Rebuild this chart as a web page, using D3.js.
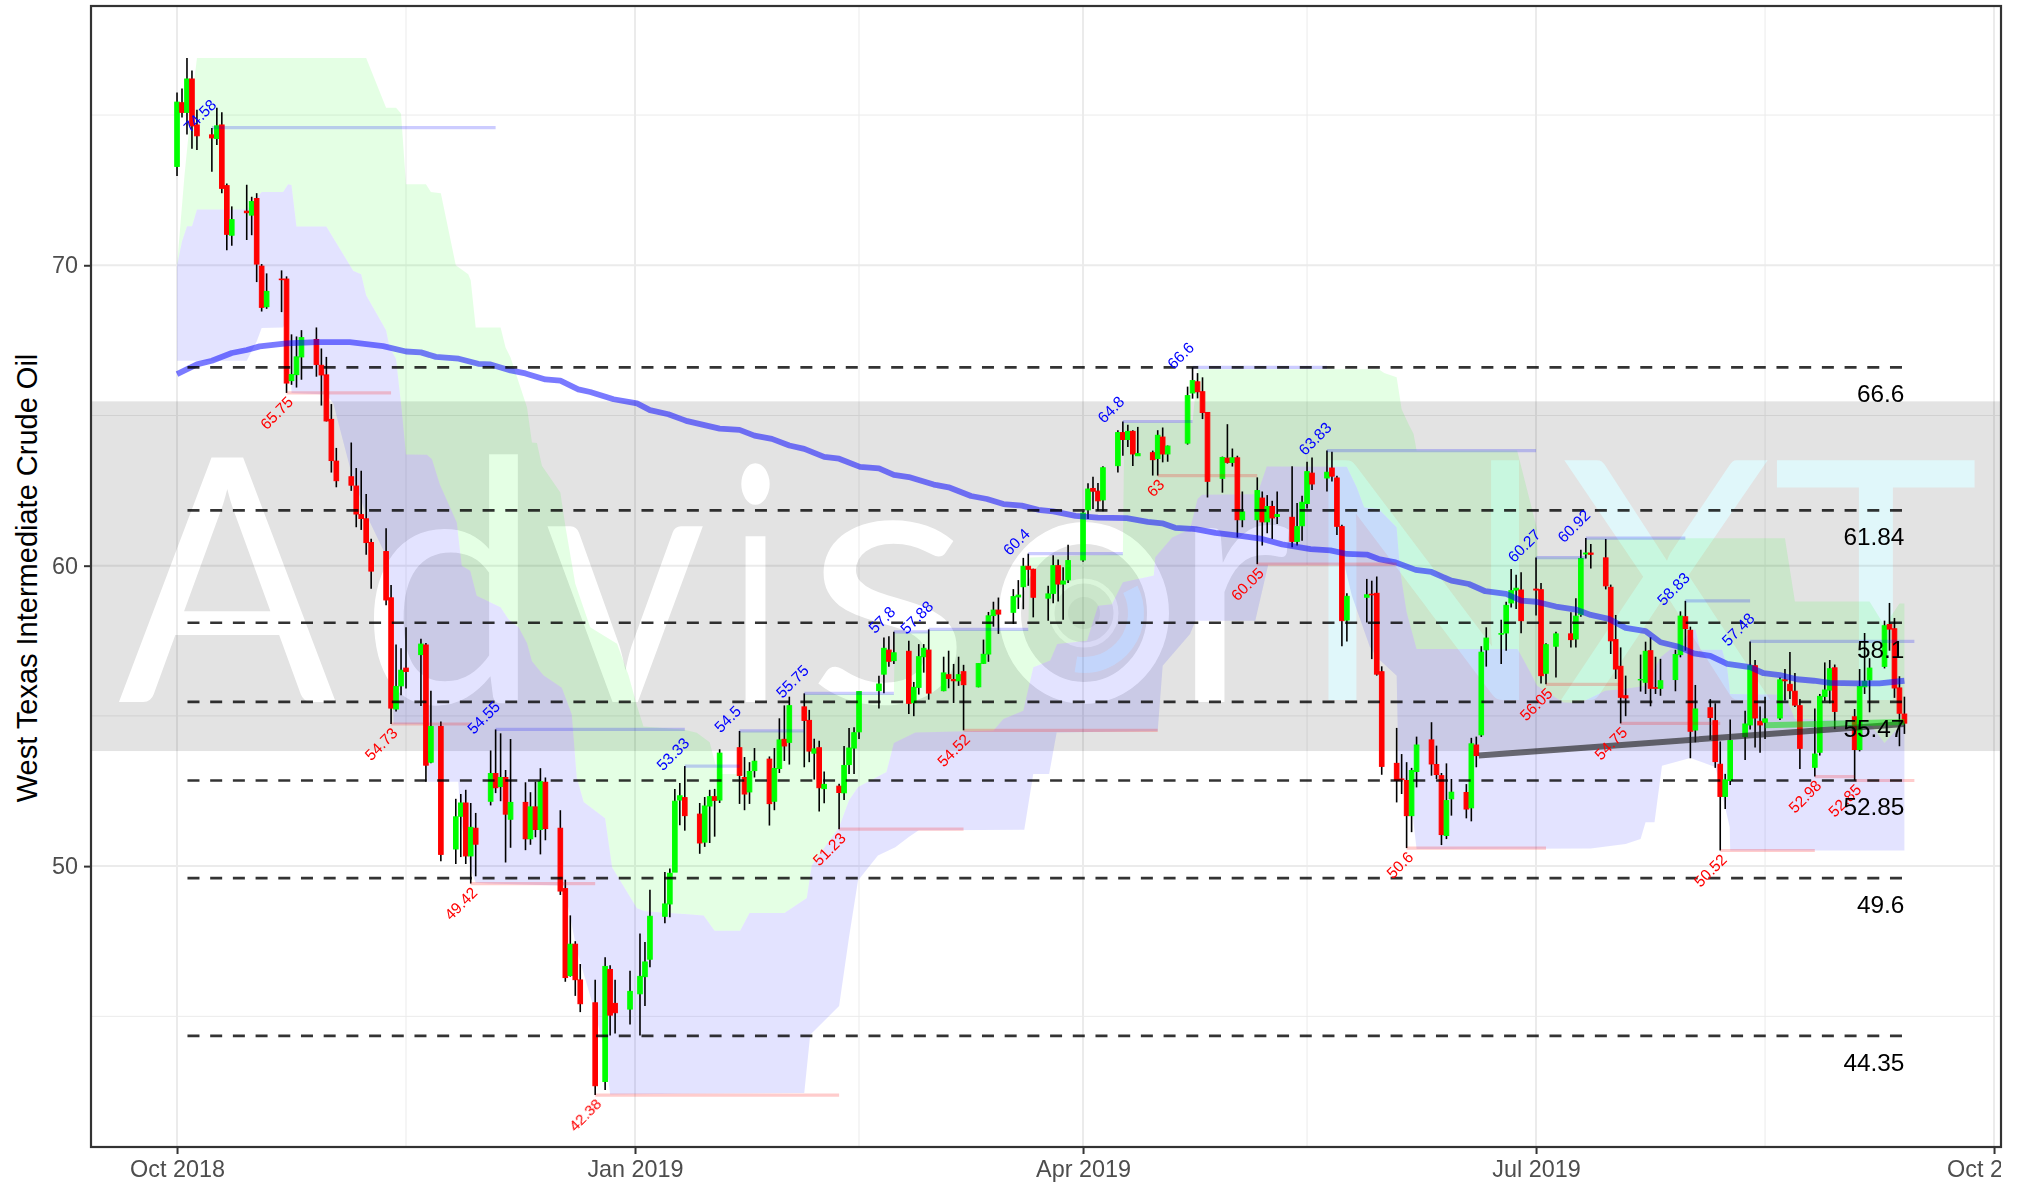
<!DOCTYPE html>
<html>
<head>
<meta charset="utf-8">
<script src="https://cdn.jsdelivr.net/npm/d3@7"></script>
<style>
  body { margin: 0; background: #fff; }
  svg { display: block; }
  text { font-family: "Liberation Sans", Arial, sans-serif; }
</style>
</head>
<body>
<div id="chart"></div>
<script>
// Candles: days are counted from 2018-10-01
const days = [0,1,2,3,4,7,8,9,10,11,
  14,15,16,17,18,21,22,23,24,25,
  28,29,30,31,32,35,36,37,38,39,
  42,43,44,45,46,49,50,51,53,56,
  57,58,59,60,63,64,65,66,67,70,
  71,72,73,74,77,78,79,80,81,84,
  86,87,88,91,93,94,95,98,99,100,
  101,102,105,106,107,108,109,113,114,115,
  116,119,120,121,122,123,126,127,128,129,
  130,133,134,135,136,137,141,142,143,144,
  147,148,149,150,151,154,155,156,157,158,
  161,162,163,164,165,168,169,170,171,172,
  175,176,177,178,179,182,183,184,185,186,
  189,190,191,192,193,196,197,198,199,203,
  204,205,206,207,210,211,212,213,214,217,
  218,219,220,221,224,225,226,227,228,231,
  232,233,234,235,239,240,241,242,245,246,
  247,248,249,252,253,254,255,256,259,260,
  261,262,263,266,267,268,269,270,273,274,
  275,277,280,281,282,283,284,287,288,289,
  290,291,294,295,296,297,298,301,302,303,
  304,305,308,309,310,311,312,315,316,317,
  318,319,322,323,324,325,326,329,330,331,
  332,333,337,338,339,340,343,344,345,346,
  347];

const opens = [73.29,75.41,75.09,76.2,74.67,74.34,74.22,74.67,72.65,71.0,
  71.8,71.67,72.22,69.97,68.62,69.54,69.54,66.16,66.36,66.95,
  67.53,66.67,66.35,64.87,63.48,62.96,62.65,61.7,61.56,60.77,
  60.47,58.93,55.23,56.0,56.59,57.04,57.36,53.46,54.65,50.57,
  51.66,52.1,50.34,51.26,52.16,53.08,52.65,52.95,51.56,52.12,
  50.91,51.97,51.22,52.79,51.26,49.25,46.36,47.4,46.21,45.45,
  42.83,46.56,45.43,45.24,45.75,46.32,46.9,48.33,48.74,49.8,
  52.2,52.28,51.73,50.8,52.0,52.31,52.2,53.94,52.95,52.47,
  53.18,53.56,52.16,53.25,54.22,54.12,55.3,54.85,53.76,53.94,
  52.58,52.66,52.44,53.38,53.93,54.47,55.84,56.39,57.19,56.84,
  57.15,55.44,55.95,56.97,57.19,55.84,56.37,56.21,56.17,56.47,
  55.97,56.75,57.06,58.34,58.52,58.45,58.96,59.3,59.98,59.88,
  58.92,59.08,60.0,59.39,59.53,60.19,61.86,62.57,62.48,62.19,
  63.33,64.43,64.2,64.47,63.66,63.76,63.57,64.28,63.72,64.08,
  65.75,66.12,65.79,65.1,62.91,63.58,63.44,63.59,61.53,61.53,
  62.25,61.46,61.97,61.64,61.61,60.81,61.33,62.07,63.08,62.92,
  63.25,62.92,61.3,58.19,58.95,59.05,59.08,56.47,53.42,52.9,
  52.85,51.68,53.15,54.2,53.38,53.01,51.02,52.24,52.45,51.94,
  54.03,54.37,57.2,57.72,57.76,58.76,59.19,59.19,59.22,59.2,
  56.42,57.32,57.73,57.56,58.37,60.39,60.42,60.26,59.28,57.54,
  56.65,55.67,56.2,56.12,57.17,55.94,55.92,56.21,57.04,58.3,
  57.85,54.53,55.27,54.84,53.39,52.32,52.85,54.31,54.7,56.67,
  54.82,54.79,54.93,56.2,56.05,55.82,55.34,53.29,53.79,55.65,
  55.86,56.6,54.97,53.88,55.97,56.2,56.65,58.04,57.9,55.93,
  55.06];

const highs = [75.75,75.88,76.9,76.48,75.18,74.57,75.24,75.09,72.72,71.96,
  72.68,72.28,72.4,70.04,69.73,69.83,69.63,67.7,67.63,67.84,
  67.93,67.23,66.95,65.38,63.92,64.1,63.25,63.16,62.39,60.9,
  61.25,59.36,57.38,57.25,57.95,57.57,57.43,55.84,54.81,52.24,
  52.4,52.54,52.1,51.77,53.85,54.55,54.42,53.2,54.23,52.79,
  52.46,52.81,53.26,52.95,51.86,49.55,48.36,47.5,46.74,46.22,
  46.97,46.7,46.22,46.52,47.76,47.47,49.21,49.8,49.92,52.57,
  52.77,53.33,52.1,52.3,52.54,52.57,53.89,54.5,53.63,53.46,
  53.93,53.65,53.93,54.92,55.35,55.64,55.75,55.2,54.24,54.17,
  53.15,52.74,54.0,54.6,54.62,55.83,56.34,57.61,57.65,57.8,
  57.5,56.13,57.39,57.39,57.88,56.97,57.17,56.73,56.97,56.7,
  56.75,57.54,58.46,58.8,58.94,59.22,59.52,60.26,60.4,59.9,
  59.33,60.35,60.21,59.95,60.7,61.81,62.74,62.96,62.75,63.31,
  64.51,64.8,64.69,64.51,64.62,63.83,64.51,64.6,64.0,65.96,
  66.6,66.41,66.27,65.1,63.63,64.71,63.9,63.66,62.47,62.94,
  62.47,62.35,62.16,62.47,63.31,62.09,62.33,63.46,63.6,63.83,
  63.79,62.99,61.36,59.08,59.56,59.5,59.64,56.65,54.6,53.73,
  53.46,53.27,54.31,54.79,54.01,53.1,53.42,52.9,52.73,54.27,
  54.31,57.32,57.95,58.2,58.8,59.89,59.7,59.78,60.27,59.42,
  57.42,57.8,58.45,58.92,60.53,60.92,60.72,60.89,59.37,58.36,
  57.28,56.34,57.04,57.47,57.62,56.97,56.9,57.2,58.48,58.83,
  57.97,56.03,55.56,55.42,54.15,53.07,54.88,55.17,57.48,56.86,
  55.31,55.64,56.28,56.56,57.13,56.43,55.56,55.25,55.73,56.78,
  56.86,56.71,55.23,56.56,57.76,56.92,58.17,58.76,58.26,56.32,
  55.64];

const lows = [72.97,74.92,74.35,73.88,73.84,73.11,74.0,72.4,70.5,70.65,
  70.84,71.0,69.44,68.46,68.55,68.44,65.75,66.02,65.93,66.19,
  66.29,65.33,64.8,63.1,62.61,62.49,61.28,61.19,60.36,59.23,
  58.68,54.73,55.15,55.69,55.91,55.33,52.81,53.42,50.16,50.07,
  50.3,50.07,49.42,49.66,52.02,52.43,52.16,50.12,50.61,50.53,
  50.71,50.96,50.39,50.86,49.04,46.15,46.32,45.68,45.14,42.38,
  42.55,44.36,44.43,44.73,44.36,45.34,46.63,48.1,48.3,49.8,
  51.36,51.18,50.41,50.64,50.77,50.98,52.1,52.07,51.86,52.07,
  52.95,51.35,51.86,53.1,53.5,53.38,53.29,53.46,52.88,51.82,
  52.09,51.23,52.2,53.07,53.07,54.23,55.25,55.75,56.64,56.73,
  55.06,54.99,55.71,56.44,55.54,55.82,55.92,55.43,56.0,54.52,
  55.95,56.73,56.8,57.97,57.73,58.06,58.56,58.55,59.33,58.28,
  58.17,58.75,58.81,58.2,59.42,60.13,61.55,61.89,61.83,61.81,
  63.1,63.66,63.95,63.32,63.7,63.0,63.0,63.44,63.46,64.03,
  65.56,65.57,64.88,62.27,62.43,63.4,63.3,60.94,61.28,60.05,
  60.67,61.08,60.89,61.39,60.61,60.67,60.83,61.9,62.52,62.47,
  62.8,61.02,57.32,57.48,58.11,56.89,56.34,53.04,52.12,52.4,
  50.6,51.13,52.62,53.01,52.9,50.7,50.9,51.68,51.59,51.49,
  53.29,54.3,56.64,56.73,57.17,58.61,58.56,57.75,58.34,56.08,
  56.05,56.28,57.28,57.28,58.3,60.24,59.91,59.21,57.06,56.23,
  54.75,54.99,55.81,55.73,55.32,55.73,55.67,55.82,56.95,57.17,
  53.59,54.12,54.2,53.27,50.52,51.9,52.7,53.53,54.55,53.95,
  53.77,54.23,54.86,55.51,55.56,55.3,53.23,52.98,53.68,55.5,
  55.42,54.56,52.85,53.82,55.73,55.12,56.58,57.17,55.6,53.99,
  54.4];

const closes = [75.43,75.09,76.2,74.64,74.31,74.24,74.64,72.56,71.03,71.52,
  71.75,72.12,70.04,68.6,69.13,69.52,66.08,66.36,66.95,67.59,
  66.7,66.35,64.82,63.5,62.83,62.68,61.72,61.57,60.77,59.82,
  58.86,55.26,55.98,56.52,56.48,57.39,53.36,54.65,50.39,51.64,
  52.1,50.34,51.29,50.73,53.08,52.61,52.95,51.73,52.12,50.91,
  51.97,51.22,52.81,51.25,49.17,46.29,47.4,46.22,45.42,42.69,
  46.66,45.04,45.12,45.83,46.33,46.81,48.33,48.74,49.76,52.16,
  52.34,51.68,50.77,52.0,52.31,52.19,53.76,53.02,52.4,53.15,
  53.49,52.08,53.25,54.2,54.0,55.34,54.85,53.83,53.9,52.61,
  52.72,52.45,53.35,53.93,54.44,55.81,56.06,57.25,56.82,57.1,
  55.42,55.95,56.97,57.25,55.76,56.43,56.25,56.17,56.37,56.04,
  56.74,57.05,58.33,58.52,58.39,58.97,59.02,59.98,59.88,58.95,
  59.06,60.0,59.39,59.49,60.17,61.75,62.55,62.48,62.16,63.26,
  64.43,64.2,64.47,63.72,63.73,63.53,64.34,63.72,63.98,65.66,
  66.16,65.79,65.1,62.81,63.6,63.44,63.59,61.53,61.79,62.5,
  61.46,61.97,61.59,61.7,60.81,61.3,62.11,63.13,62.72,63.11,
  62.98,61.31,58.17,58.98,59.03,59.03,56.39,53.32,52.85,52.88,
  51.68,53.18,54.03,53.4,53.05,51.05,52.18,52.46,51.9,54.07,
  53.68,57.12,57.59,57.74,58.68,59.17,59.25,58.17,59.19,56.34,
  57.37,57.73,57.54,58.32,60.24,60.42,60.38,59.33,57.5,56.56,
  55.62,55.6,56.21,57.15,55.92,55.92,56.17,57.04,58.32,57.91,
  54.49,55.23,54.95,53.48,52.32,52.87,54.18,54.73,56.67,54.93,
  54.7,54.9,56.2,56.17,55.84,55.36,53.92,53.73,55.65,55.86,
  56.57,55.15,53.88,55.98,56.15,56.59,58.0,57.89,55.93,55.09,
  54.76];

// Moving average
const maDays = [0,4,7,11,14,16.6,22,28,34.7,41.4,
  46,49,52,56.6,60.5,63,67,70,74,77,
  80.6,83,87.7,92.4,95,98.7,102.5,109,113,116,
  119.5,123,126,130,133,137.2,141,144,147,152,
  155,159.5,162.7,166,169.7,173,176,180.5,185,190.8,
  195,197.9,200.5,204.6,208.6,214,218,222,227.7,231.7,
  235,239,241.4,244.8,248.8,252,256,259.5,262.8,267,
  270,273,277,281,284,287.6,291,295,298,301.3,
  304.7,308,311.4,316,318.7,322,325.4,328.8,332,337.5,
  342,347];
const maValues = [66.38,66.7,66.82,67.08,67.18,67.3,67.4,67.44,67.44,67.31,
  67.13,67.1,66.95,66.89,66.72,66.7,66.5,66.4,66.2,66.16,
  65.87,65.78,65.54,65.4,65.18,65.04,64.81,64.56,64.52,64.33,
  64.22,64.0,63.89,63.62,63.56,63.29,63.24,63.02,62.95,62.7,
  62.61,62.32,62.22,62.05,62.0,61.86,61.81,61.66,61.6,61.58,
  61.46,61.41,61.26,61.22,61.09,60.98,60.89,60.71,60.55,60.51,
  60.39,60.37,60.22,60.11,59.86,59.79,59.5,59.39,59.15,59.06,
  58.84,58.8,58.64,58.54,58.36,58.23,57.93,57.82,57.45,57.32,
  57.08,57.0,56.73,56.62,56.42,56.36,56.22,56.17,56.1,56.08,
  56.08,56.17];

// Cloud edges as [day, price]: green sits between upper and middle, blue between middle and lower
const cloudUpper = [[0,70],[1.5,73],[3,75.5],[4,76.9],[38,76.9],[42,75.24],[44,75.24],[45,75.05],[46,72.7],[50,72.7],
  [51,72.44],[53,72.4],[56,70],[58.5,69.7],[59,69.5],[60,67.93],[65,67.93],[66,67.26],[67,66.93],[70.3,65.27],
  [71.3,64.1],[72.3,64.08],[73.3,63.33],[77,62.44],[78,61.33],[80,59.4],[83,57.95],[88.4,57.4],[90.7,56.35],[92.4,55.33],
  [93.7,54.65],[101.7,54.55],[104.4,54.44],[107,54.12],[108,53.49],[108.8,53.07],[112.4,53.07],[113,54.48],[126,54.5],[126.2,55.73],
  [144,55.73],[144.2,57.75],[151,57.8],[151.2,57.86],[171,57.86],[171.3,60.27],[190,60.39],[190.3,64.77],[204,64.77],[205,66.54],
  [241.4,66.54],[242.5,66.41],[245,66.27],[246,65.21],[247.4,64.71],[248.4,64.38],[249,63.83],[269.2,63.83],[273.2,61.22],[273.3,60.28],
  [282.6,60.27],[283,60.91],[323,60.91],[325,58.81],[340,58.81],[343,58.0],[346,58.74],[347,58.74]];

const cloudMiddle = [[0,70],[1,70.8],[2,71.3],[3,71.3],[4,71.86],[14,71.86],[17,72.44],[21.3,72.44],[22.3,72.7],[23,72.67],
  [24,71.29],[30,71.29],[35.4,69.82],[37,69.7],[38,69],[42,67.84],[42.7,67.27],[44,66.89],[45,65.4],[46,63.7],
  [50.2,63.69],[51.2,63.55],[52.8,62.7],[56.2,61.44],[57.2,60],[58.9,59.83],[60.2,59],[65,58.62],[66.6,58.22],[68.6,57.95],
  [70.3,57.43],[71.3,56.82],[73.6,56.35],[77.3,55.94],[79.3,55.05],[80.3,52.95],[81.7,52.13],[86,51.59],[87.4,49.96],[92.4,48.6],
  [94,48.5],[105.8,48.36],[108,47.85],[113.1,47.85],[115,48.44],[122,48.44],[126.5,48.94],[127.5,50.03],[133,51.3],[135,52.2],
  [136.8,52.63],[142.5,53.13],[144,54.1],[148.3,54.45],[164,54.51],[166,54.9],[170,55.17],[172,56.62],[175.4,56.84],[176.8,57.39],
  [182.8,57.5],[185,58.67],[187.8,58.72],[190,59.45],[196.2,59.67],[196.5,60.28],[199.9,60.94],[203.5,61.22],[205,62.22],[205.9,62.36],
  [217,62.38],[218.9,63.3],[235,63.29],[237,62.6],[238.5,61.94],[241.4,61.89],[245,61.28],[245.7,59.83],[247,58.45],[249,57.23],
  [269.3,57.23],[272,56.4],[273.2,56],[278.5,55.45],[281.8,55.43],[286.9,55.84],[291,55.9],[295,56],[298,56.95],[301,57.35],
  [305,57.9],[306,57.2],[310.4,57.2],[311.4,56.6],[312,55.73],[323,55.7],[325,54.9],[339.6,54.84],[343,54.1],[347,54.84]];

const cloudLower = [[0,66.82],[14,66.82],[16,67.46],[17,67.91],[21.3,67.93],[22.5,68.3],[23,65.75],[30,65.7],[31.4,65.4],[35,63.1],
  [38,61.7],[41.5,60.5],[43,58.5],[43.5,54.73],[50,54.73],[50.3,52.81],[56.5,52.81],[57,51.5],[59,49.9],[60,49.45],
  [62.5,49.42],[77.7,49.35],[79,48.3],[80.3,47.2],[83.6,45.34],[86,43.8],[87,42.4],[126,42.45],[127.2,44.39],[133,45.34],
  [135,47.64],[136.8,49.52],[140.8,50.35],[144.3,50.63],[147,50.97],[149,51.19],[170.2,51.21],[172,53.07],[175.2,53.07],[176.7,54.45],
  [197,54.5],[198,56.67],[203.5,57.73],[204.6,58.17],[216.6,58.17],[219.2,60.03],[234.5,60.03],[236,59],[239.6,57.3],[241,56.95],
  [245,56.34],[245.4,52.9],[247.4,52.85],[249,50.57],[284,50.59],[291,50.74],[294,50.9],[295,51.46],[296.8,51.46],[298.3,53.34],
  [304,53.6],[309,53.3],[310.5,52.3],[311.9,51.3],[312,50.52],[347,50.52]];

// Pivots: value, first day of the flat line, last day
const peakValues = [74.58,54.55,53.33,54.5,55.75,57.8,57.88,60.4,64.8,66.6,63.83,60.27,60.92,58.83,57.48];
const peakStarts = [7,64,102,113,126,144,151,171,190,204,231,273,283,303,316];
const peakEnds = [64,102,113,126,144,151,171,190,204,231,273,283,303,316,349];
const troughValues = [65.75,54.73,49.42,42.38,51.23,54.52,63,60.05,50.6,56.05,54.75,50.52,52.98,52.85];
const troughStarts = [22,43,59,84,133,158,197,217,247,275,290,310,329,337];
const troughEnds = [43,59,84,133,158,197,217,245,275,290,310,329,337,349];

// Horizontal levels
const levels = [66.6,61.84,58.1,55.47,52.85,49.6,44.35];
const levelStart = 2.1;
const levelEnd = 347;

// Trend segments
const trendDays = [261.5,347];
const trendValues = [53.68,54.73];
const shortTrendDays = [319,347];
const shortTrendValues = [54.69,54.8];

// Gray band limits
const bandValues = [65.47,53.83];

// Axis ticks
const xMajor = ["2018-10-01","2019-01-01","2019-04-01","2019-07-01","2019-10-01"];
const xMinor = ["2018-11-16","2019-02-15","2019-05-16","2019-08-16"];
const xLabels = ["Oct 2018","Jan 2019","Apr 2019","Jul 2019","Oct 2019"];
const yMajor = [50,60,70];
const yMinor = [45,55,65,75];
const yTitle = "West Texas Intermediate Crude Oil";

const width = 2036, height = 1186;
const panel = { left: 91, right: 2001, top: 6, bottom: 1147 };

const baseTime = Date.UTC(2018, 9, 1);
const dayDate = d => new Date(baseTime + d * 864e5);

const x = d3.scaleUtc()
  .domain([dayDate(-17.28), dayDate(366.4)])
  .range([panel.left, panel.right]);
const y = d3.scaleLinear()
  .domain([40.65, 78.63])
  .range([panel.bottom, panel.top]);
const xDay = d => x(dayDate(d));

const svg = d3.select("#chart").append("svg")
  .attr("width", width)
  .attr("height", height);

const defs = svg.append("defs");
defs.append("clipPath").attr("id", "panel-clip")
  .append("rect")
  .attr("x", panel.left).attr("y", panel.top)
  .attr("width", panel.right - panel.left)
  .attr("height", panel.bottom - panel.top);
// The reference cuts the last x label at the panel's right edge
defs.append("clipPath").attr("id", "xaxis-clip")
  .append("rect")
  .attr("x", 0).attr("y", -5)
  .attr("width", panel.right).attr("height", 60);

const plot = svg.append("g").attr("clip-path", "url(#panel-clip)");

// Gray band with the watermark on it
plot.append("rect")
  .attr("x", panel.left)
  .attr("width", panel.right - panel.left)
  .attr("y", y(bandValues[0]))
  .attr("height", y(bandValues[1]) - y(bandValues[0]))
  .attr("fill", "#e3e3e3");

const watermark = [
  { t: "A", x0: 118, x1: 336, y0: 458, y1: 702, c: "#fff" },
  { t: "d", x0: 373, x1: 518, y0: 453, y1: 705, c: "#fff" },
  { t: "v", x0: 547, x1: 703, y0: 525, y1: 702, c: "#fff" },
  { t: "i", x0: 741, x1: 770, y0: 463, y1: 702, c: "#fff" },
  { t: "s", x0: 817, x1: 957, y0: 520, y1: 706, c: "#fff" },
  { t: "r", x0: 1195, x1: 1290, y0: 525, y1: 702, c: "#fff" },
  { t: "N", x0: 1328, x1: 1520, y0: 459, y1: 700, c: "#e0f7fa" },
  { t: "X", x0: 1561, x1: 1771, y0: 459, y1: 700, c: "#e0f7fa" },
  { t: "T", x0: 1777, x1: 1976, y0: 459, y1: 700, c: "#e0f7fa" }
];

// Squeeze each letter into its box using the glyph's real ink bounds
const measure = document.createElement("canvas").getContext("2d");
measure.font = '400 200px Lato';
watermark.forEach(l => {
  const m = measure.measureText(l.t);
  const inkW = m.actualBoundingBoxRight + m.actualBoundingBoxLeft;
  const inkH = m.actualBoundingBoxAscent + m.actualBoundingBoxDescent;
  const sx = (l.x1 - l.x0) / inkW, sy = (l.y1 - l.y0) / inkH;
  plot.append("text")
    .attr("transform", `translate(${l.x0 + m.actualBoundingBoxLeft * sx},${l.y1 - m.actualBoundingBoxDescent * sy}) scale(${sx},${sy})`)
    .style("font-family", "Lato")
    .style("font-weight", 400)
    .style("font-size", "200px")
    .attr("fill", l.c)
    .text(l.t);
});

// The round logo that stands in for the "o"
const logo = plot.append("g").attr("transform", "translate(1084,613)").attr("fill", "none");
logo.append("ellipse").attr("rx", 74).attr("ry", 80).attr("stroke", "#fff").attr("stroke-width", 22);
logo.append("path")
  .attr("d", d3.arc()({ innerRadius: 44, outerRadius: 60, startAngle: Math.PI * 0.35, endAngle: Math.PI * 1.05 }))
  .attr("fill", "#dcf0fb");
logo.append("circle").attr("r", 32).attr("stroke", "#f4f4f4").attr("stroke-width", 5);
logo.append("circle").attr("r", 16).attr("fill", "#d8d8d8");

// Grid multiplies with what is beneath it, so it darkens on the band
const grid = plot.append("g").style("mix-blend-mode", "multiply").attr("stroke", "#ebebeb");
const xMajorDates = xMajor.map(d => new Date(d + "T00:00:00Z"));
const xMinorDates = xMinor.map(d => new Date(d + "T00:00:00Z"));
grid.selectAll(".gx-minor").data(xMinorDates).enter().append("line")
  .attr("x1", d => x(d)).attr("x2", d => x(d))
  .attr("y1", panel.top).attr("y2", panel.bottom)
  .attr("stroke-width", 1);
grid.selectAll(".gy-minor").data(yMinor).enter().append("line")
  .attr("x1", panel.left).attr("x2", panel.right)
  .attr("y1", d => y(d)).attr("y2", d => y(d))
  .attr("stroke-width", 1);
grid.selectAll(".gx-major").data(xMajorDates).enter().append("line")
  .attr("x1", d => x(d)).attr("x2", d => x(d))
  .attr("y1", panel.top).attr("y2", panel.bottom)
  .attr("stroke-width", 2);
grid.selectAll(".gy-major").data(yMajor).enter().append("line")
  .attr("x1", panel.left).attr("x2", panel.right)
  .attr("y1", d => y(d)).attr("y2", d => y(d))
  .attr("stroke-width", 2);

// Cloud
const edge = d3.line().x(d => xDay(d[0])).y(d => y(d[1]));
plot.append("path")
  .attr("d", edge(cloudUpper.concat(cloudMiddle.slice().reverse())) + "Z")
  .attr("fill", "#00ff00").attr("fill-opacity", 0.105);
plot.append("path")
  .attr("d", edge(cloudMiddle.concat(cloudLower.slice().reverse())) + "Z")
  .attr("fill", "#0000ff").attr("fill-opacity", 0.11);

// Candles
const candles = days.map((d, i) => ({ d, o: opens[i], h: highs[i], l: lows[i], c: closes[i] }));
const candleG = plot.append("g");
candleG.selectAll(".wick").data(candles).enter().append("line")
  .attr("class", "wick")
  .attr("x1", d => xDay(d.d)).attr("x2", d => xDay(d.d))
  .attr("y1", d => y(d.h)).attr("y2", d => y(d.l))
  .attr("stroke", "#000").attr("stroke-width", 1.6);
candleG.selectAll(".body").data(candles).enter().append("rect")
  .attr("class", "body")
  .attr("x", d => xDay(d.d) - 2.3)
  .attr("width", 4.6)
  .attr("y", d => y(Math.max(d.o, d.c)))
  .attr("height", d => Math.abs(y(d.o) - y(d.c)))
  .attr("fill", d => d.c >= d.o ? "#00ff00" : "#ff0000")
  .attr("stroke", d => d.c >= d.o ? "#00ff00" : "#ff0000")
  .attr("stroke-width", 1);

// Moving average and trend segments
const valueLine = d3.line().x(d => xDay(d[0])).y(d => y(d[1]));
plot.append("path")
  .attr("d", valueLine(d3.zip(maDays, maValues)))
  .attr("fill", "none").attr("stroke", "#0000ff")
  .attr("stroke-opacity", 0.52).attr("stroke-width", 5.8).attr("stroke-linejoin", "round");
plot.append("path")
  .attr("d", valueLine(d3.zip(trendDays, trendValues)))
  .attr("fill", "none").attr("stroke", "#1a1a1a")
  .attr("stroke-opacity", 0.62).attr("stroke-width", 6);
plot.append("path")
  .attr("d", valueLine(d3.zip(shortTrendDays, shortTrendValues)))
  .attr("fill", "none").attr("stroke", "#00e000")
  .attr("stroke-opacity", 0.5).attr("stroke-width", 6);

// Pivot lines
plot.selectAll(".peak-line").data(peakValues).enter().append("line")
  .attr("x1", (d, i) => xDay(peakStarts[i])).attr("x2", (d, i) => xDay(peakEnds[i]))
  .attr("y1", d => y(d)).attr("y2", d => y(d))
  .attr("stroke", "#0000ff").attr("stroke-opacity", 0.2).attr("stroke-width", 3.2);
plot.selectAll(".trough-line").data(troughValues).enter().append("line")
  .attr("x1", (d, i) => xDay(troughStarts[i])).attr("x2", (d, i) => xDay(troughEnds[i]))
  .attr("y1", d => y(d)).attr("y2", d => y(d))
  .attr("stroke", "#ff0000").attr("stroke-opacity", 0.2).attr("stroke-width", 3.2);

// Dashed levels
plot.selectAll(".level").data(levels).enter().append("line")
  .attr("x1", xDay(levelStart)).attr("x2", xDay(levelEnd))
  .attr("y1", d => y(d)).attr("y2", d => y(d))
  .attr("stroke", "#000").attr("stroke-opacity", 0.8)
  .attr("stroke-width", 2.7).attr("stroke-dasharray", "12,10.7");

// Pivot labels
plot.selectAll(".peak-label").data(peakValues).enter().append("text")
  .attr("transform", (d, i) => `translate(${xDay(peakStarts[i]) - 12},${y(d) - 12}) rotate(-45)`)
  .attr("text-anchor", "middle").attr("dy", "0.35em")
  .attr("font-size", 15.5).attr("fill", "#0000ff")
  .text(d => d);
plot.selectAll(".trough-label").data(troughValues).enter().append("text")
  .attr("transform", (d, i) => `translate(${xDay(troughStarts[i]) + 3.8},${y(d) + 6.2}) rotate(-45)`)
  .attr("text-anchor", "end").attr("dy", "0.35em")
  .attr("font-size", 15.5).attr("fill", "#ff0000")
  .text(d => d);

// Level labels
plot.selectAll(".level-label").data(levels).enter().append("text")
  .attr("x", xDay(levelEnd)).attr("y", d => y(d) + 35)
  .attr("text-anchor", "end")
  .attr("font-size", 24.4).attr("fill", "#000")
  .text(d => d);

// Panel border
svg.append("rect")
  .attr("x", panel.left).attr("y", panel.top)
  .attr("width", panel.right - panel.left)
  .attr("height", panel.bottom - panel.top)
  .attr("fill", "none").attr("stroke", "#333").attr("stroke-width", 2.2);

// Axes
const xAxis = svg.append("g")
  .attr("transform", `translate(0,${panel.bottom})`)
  .attr("clip-path", "url(#xaxis-clip)")
  .call(d3.axisBottom(x).tickValues(xMajorDates)
    .tickFormat((d, i) => xLabels[i]).tickSize(7).tickSizeOuter(0).tickPadding(6));
const yAxis = svg.append("g")
  .attr("transform", `translate(${panel.left},0)`)
  .call(d3.axisLeft(y).tickValues(yMajor).tickSize(7).tickSizeOuter(0).tickPadding(6));
[xAxis, yAxis].forEach(a => {
  a.select(".domain").remove();
  a.selectAll(".tick line").attr("stroke", "#333").attr("stroke-width", 2);
  a.selectAll(".tick text")
    .attr("fill", "#4d4d4d")
    .style("font-size", "23.4px")
    .style("font-family", '"Liberation Sans", Arial, sans-serif');
});

svg.append("text")
  .attr("transform", "translate(37,578) rotate(-90)")
  .attr("text-anchor", "middle")
  .attr("font-size", 29).attr("fill", "#000")
  .text(yTitle);
</script>
</body>
</html>
